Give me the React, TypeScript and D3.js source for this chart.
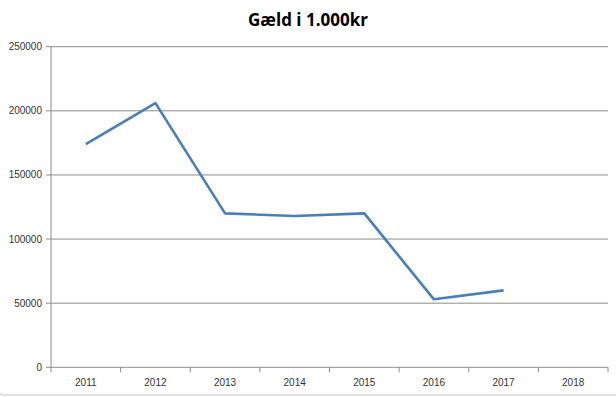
import React from "react";
import * as d3 from "d3";

const years = ["2011", "2012", "2013", "2014", "2015", "2016", "2017", "2018"];
const debt: (number | null)[] = [174000, 206000, 120000, 118000, 120000, 53000, 60000, null];
const yTicks = [0, 50000, 100000, 150000, 200000, 250000];
const title = "Gæld i 1.000kr";

const W = 616;
const H = 397;
const left = 51;
const right = 608;
const top = 46.7;
const bottom = 367.3;

export default function App() {
  const x = d3.scaleBand<string>().domain(years).range([left, right]).padding(0);
  const y = d3.scaleLinear().domain([0, 250000]).range([bottom, top]);
  const pts = years.map((yr, i) => ({ yr, v: debt[i] }));
  const line = d3
    .line<{ yr: string; v: number | null }>()
    .defined((d) => d.v !== null)
    .x((d) => (x(d.yr) as number) + x.bandwidth() / 2)
    .y((d) => y(d.v as number));
  const edges = years.map((yr) => x(yr) as number).concat([right]);
  const font = "'Liberation Sans', Arial, sans-serif";
  return (
    <svg
      width={W}
      height={H}
      style={{ position: "absolute", left: 0, top: 0, background: "#fff" }}
    >
      <rect x={-4} y={-8} width={W + 20} height={403} rx={8} fill="#fff" stroke="#d6d6d6" strokeWidth={1.5} />
      <text
        x={W / 2}
        y={26}
        textAnchor="middle"
        fontFamily="'Open Sans', sans-serif"
        fontWeight="bold"
        fontSize={17}
        fill="#000"
      >
        {title}
      </text>
      {yTicks.map((t) => (
        <g key={t}>
          {t > 0 && (
            <line x1={left} x2={right} y1={y(t)} y2={y(t)} stroke="#8c8c8c" strokeWidth={1} />
          )}
          <line x1={left - 5} x2={left} y1={y(t)} y2={y(t)} stroke="#8c8c8c" strokeWidth={1} />
          <text
            x={left - 9}
            y={y(t)}
            dy="0.35em"
            textAnchor="end"
            fontFamily={font}
            fontSize={10}
            fill="#333"
          >
            {t}
          </text>
        </g>
      ))}
      <line x1={left} x2={left} y1={top} y2={bottom} stroke="#8c8c8c" strokeWidth={1} />
      <line x1={left} x2={right} y1={bottom} y2={bottom} stroke="#8c8c8c" strokeWidth={1} />
      {edges.map((e, i) => (
        <line key={i} x1={e} x2={e} y1={bottom} y2={bottom + 5} stroke="#8c8c8c" strokeWidth={1} />
      ))}
      {years.map((yr) => (
        <text
          key={yr}
          x={(x(yr) as number) + x.bandwidth() / 2}
          y={bottom + 19}
          textAnchor="middle"
          fontFamily={font}
          fontSize={10}
          fill="#333"
        >
          {yr}
        </text>
      ))}
      <path d={line(pts) || ""} fill="none" stroke="#4a7ebb" strokeWidth={2.6} strokeLinejoin="round" />
    </svg>
  );
}
